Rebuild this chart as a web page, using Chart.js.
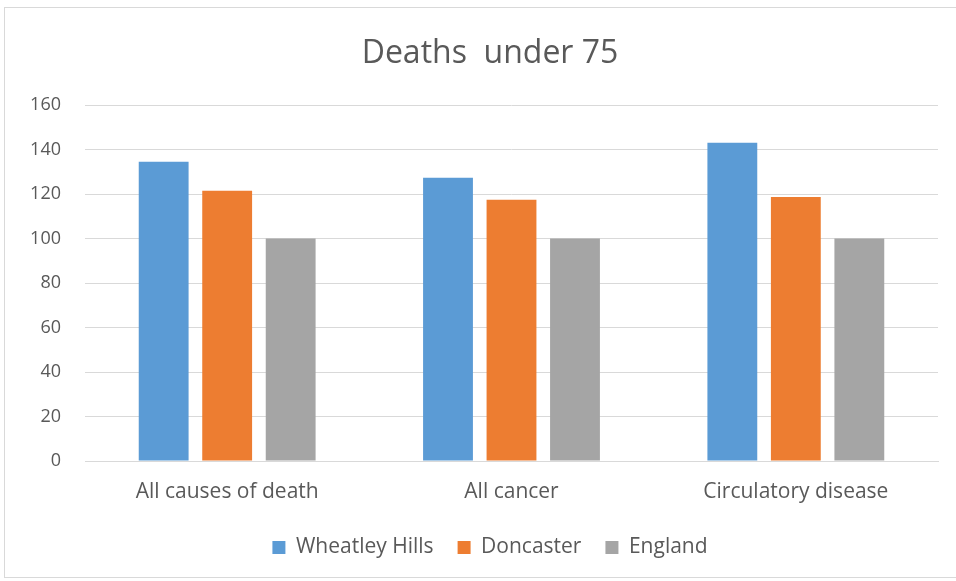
<!DOCTYPE html>
<html>
<head>
<meta charset="utf-8">
<script src="https://cdn.jsdelivr.net/npm/chart.js@4"></script>
<style>
  html, body { margin: 0; padding: 0; background: #fff; }
  #wrap { position: relative; width: 956px; height: 581px; }
  #frame { position: absolute; left: 4px; top: 7px; width: 960px; height: 571px; border: 1px solid #d9d9d9; box-sizing: border-box; }
  canvas { position: absolute; left: 0; top: 0; }
</style>
</head>
<body>
<div id="wrap">
  <div id="frame"></div>
  <canvas id="c" width="956" height="581"></canvas>
</div>
<script>
const categories = ["All causes of death", "All cancer", "Circulatory disease"];
const seriesNames = ["Wheatley Hills", "Doncaster", "England"];
const wheatleyHills = [134.5, 127.3, 143.0];
const doncaster = [121.5, 117.4, 118.6];
const england = [100, 100, 100];
const yTicks = [0, 20, 40, 60, 80, 100, 120, 140, 160];
const colors = ["#5b9bd5", "#ed7d31", "#a5a5a5"];

const FONT = "'Open Sans', 'DejaVu Sans', sans-serif";
const TXT = "#595959";

// The original chart frame extends past the right edge of the picture,
// so title and legend are centred on a slightly wider box.
const shiftBoxes = {
  id: 'shiftBoxes',
  beforeDraw(chart) {
    [chart.titleBlock, chart.legend].forEach(b => {
      if (!b) return;
      b.left = 42;
      b.width = b.right - b.left;
    });
  }
};

new Chart(document.getElementById('c'), {
  type: 'bar',
  data: {
    labels: categories,
    datasets: [wheatleyHills, doncaster, england].map((d, i) => ({
      label: seriesNames[i],
      data: d,
      backgroundColor: colors[i],
      borderWidth: 0,
      categoryPercentage: 0.67,
      barPercentage: 0.785
    }))
  },
  plugins: [shiftBoxes],
  options: {
    responsive: false,
    animation: false,
    devicePixelRatio: 1,
    layout: { padding: { left: 0, right: 18, top: 0, bottom: 13 } },
    plugins: {
      title: {
        display: true,
        text: "Deaths  under 75",
        color: TXT,
        font: { family: FONT, size: 32, weight: 'normal' },
        padding: { top: 35, bottom: 31.6 }
      },
      legend: {
        position: 'bottom',
        labels: {
          color: TXT,
          font: { family: FONT, size: 21 },
          boxWidth: 13,
          boxHeight: 13,
          padding: 24
        }
      },
      tooltip: { enabled: false }
    },
    scales: {
      x: {
        grid: { display: false },
        border: { display: true, color: '#d9d9d9', width: 1 },
        afterFit: (s) => { s.height = 52; },
        ticks: { color: TXT, font: { family: FONT, size: 21 }, padding: 10 }
      },
      y: {
        min: 0, max: 160,
        afterBuildTicks: (s) => { s.ticks = yTicks.map(v => ({ value: v })); },
        afterFit: (s) => { s.width = 85; },
        grid: { color: '#d9d9d9', drawTicks: false },
        border: { display: false },
        ticks: { color: TXT, font: { family: FONT, size: 18 }, padding: 24 }
      }
    }
  }
});
</script>
</body>
</html>
